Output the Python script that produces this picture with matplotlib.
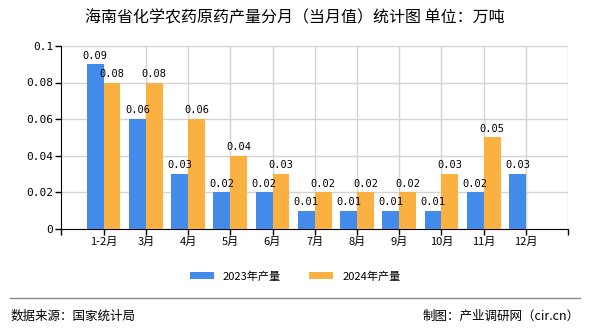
import numpy as np
import matplotlib.pyplot as plt
from matplotlib.lines import Line2D

plt.rcParams['font.family'] = ['Noto Sans CJK SC', 'DejaVu Sans']

months = ['1-2月', '3月', '4月', '5月', '6月', '7月', '8月', '9月', '10月', '11月', '12月']
output_2023 = [0.09, 0.06, 0.03, 0.02, 0.02, 0.01, 0.01, 0.01, 0.01, 0.02, 0.03]
output_2024 = [0.08, 0.08, 0.06, 0.04, 0.03, 0.02, 0.02, 0.02, 0.03, 0.05, None]
yticks = [0, 0.02, 0.04, 0.06, 0.08, 0.1]
ytick_labels = ['0', '0.02', '0.04', '0.06', '0.08', '0.1']

blue = '#428BEA'
orange = '#FBB142'
mono = 'DejaVu Sans Mono'

fig = plt.figure(figsize=(5.9, 3.3), dpi=100)
ax = fig.add_axes([0.104, 0.306, 0.859, 0.555])

x = np.arange(len(months))
w = 0.4
y23 = np.array([np.nan if v is None else v for v in output_2023], dtype=float)
y24 = np.array([np.nan if v is None else v for v in output_2024], dtype=float)

ax.bar(x - w / 2, y23, width=w, color=blue, zorder=3, label='2023年产量')
ax.bar(x + w / 2, y24, width=w, color=orange, zorder=3, label='2024年产量')

for xi, v in zip(x, output_2023):
    if v is not None:
        ax.text(xi - w / 2, v + 0.002, f'{v:.2f}', ha='center', va='bottom',
                fontsize=7.5, family=mono, zorder=4)
for xi, v in zip(x, output_2024):
    if v is not None:
        ax.text(xi + w / 2, v + 0.002, f'{v:.2f}', ha='center', va='bottom',
                fontsize=7.5, family=mono, zorder=4)

ax.set_xlim(-1, len(months))
ax.set_ylim(0, 0.1)

tick_pos = np.arange(-1, len(months) + 1)
ax.set_xticks(tick_pos)
ax.set_xticklabels([''] + months + [''], fontsize=8)
ax.set_yticks(yticks)
ax.set_yticklabels(ytick_labels, fontsize=8, family=mono)
ax.tick_params(axis='both', length=4, width=1, color='black', pad=2)

for yv in yticks[1:]:
    ax.axhline(yv, color='#D3D3D3', lw=1, zorder=1)
for xv in list(x[1:]) + [len(months)]:
    ax.axvline(xv, color='#D3D3D3', lw=1, zorder=1)

for s in ['top', 'right']:
    ax.spines[s].set_visible(False)
ax.spines['left'].set_color('black')
ax.spines['bottom'].set_color('black')

fig.text(0.5, 0.945, '海南省化学农药原药产量分月（当月值）统计图 单位：万吨',
         ha='center', va='center', fontsize=11.5)

fig.legend(loc='center', bbox_to_anchor=(0.5, 0.163), ncol=2, frameon=False,
           fontsize=8, handlelength=2.2, handleheight=0.7, columnspacing=2.5)

fig.add_artist(Line2D([0.017, 0.983], [0.097, 0.097], color='#888888', lw=1))
fig.text(0.017, 0.042, '数据来源：国家统计局', ha='left', va='center', fontsize=9)
fig.text(0.983, 0.042, '制图：产业调研网（cir.cn）', ha='right', va='center', fontsize=9)

fig.savefig('out.png', dpi=100)
